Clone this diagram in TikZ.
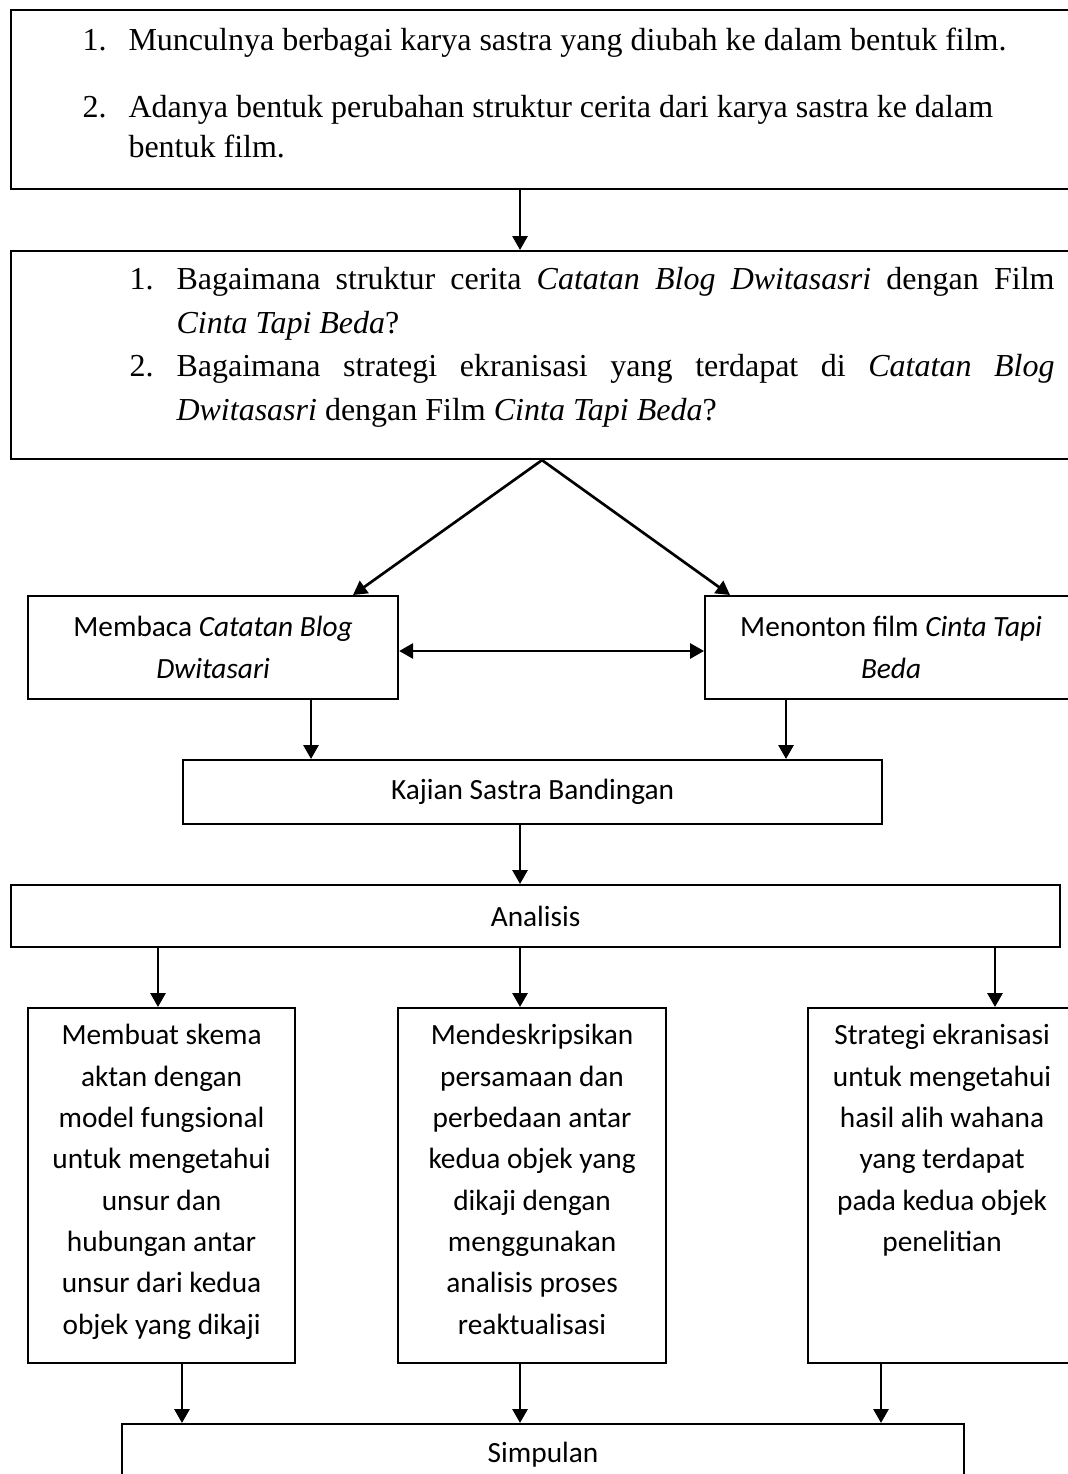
\documentclass[tikz,border=0pt]{standalone}
\usepackage{fontspec}
\setmainfont{Liberation Serif}
\newfontfamily\calibri{Carlito}
\usetikzlibrary{arrows.meta}
\newlength\pxu
\setlength\pxu{0.375pt}
\hyphenpenalty=10000
\tolerance=9999
\tikzset{
  ujung/.tip={Triangle[length=5.2pt,width=5.6pt]},
  kotak/.style={draw, line width=0.8pt, anchor=north west, inner sep=0pt},
  isi/.style={font=\calibri\fontsize{11}{15.5}\selectfont, align=center},
  kolom/.style={kotak, isi, minimum height=355\pxu, execute at end node=\strut},
  poin/.style={anchor=base west, inner sep=0pt, font=\fontsize{12}{16.3}\selectfont},
  panah/.style={line width=1pt, -ujung}
}
\begin{document}
\begin{tikzpicture}[x=0.375pt,y=-0.375pt]
\useasboundingbox (0,0) rectangle (1068,1474);
\clip (0,0) rectangle (1068,1474);

\node[kotak, minimum width=1080\pxu, minimum height=179\pxu] (latar) at (10,9) {};
\node[poin] (no1) at (82,51) {1.};
\node[poin] (poin1) at (128,51) {Munculnya berbagai karya sastra yang diubah ke dalam bentuk film.};
\node[poin] (no2) at (82,118) {2.};
\node[poin, text width=920\pxu, align=flush left, font=\fontsize{12}{15}\selectfont] (poin2) at (128,118)
  {Adanya bentuk perubahan struktur cerita dari karya sastra ke dalam\\ bentuk film.};

\node[kotak, minimum width=1080\pxu, minimum height=208\pxu] (rumusan) at (10,250) {};
\node[poin] (no3) at (129,290) {1.};
\node[poin, text width=878\pxu, align=justify] (poin3) at (176,290)
  {Bagaimana struktur cerita \textit{Catatan Blog Dwitasasri} dengan Film \textit{Cinta Tapi Beda}?};
\node[poin] (no4) at (129,377) {2.};
\node[poin, text width=878\pxu, align=justify] (poin4) at (176,377)
  {Bagaimana strategi ekranisasi yang terdapat di \textit{Catatan Blog Dwitasasri} dengan Film \textit{Cinta Tapi Beda}?};

\node[kotak, isi, minimum width=370\pxu, minimum height=103\pxu] (baca) at (27,595)
  {Membaca \textit{Catatan Blog}\\ \textit{Dwitasari}};
\node[kotak, isi, minimum width=372\pxu, minimum height=103\pxu] (tonton) at (704,595)
  {Menonton film \textit{Cinta Tapi}\\ \textit{Beda}};
\node[kotak, isi, minimum width=699\pxu, minimum height=64\pxu] (kajian) at (182,759) {Kajian Sastra Bandingan};
\node[kotak, isi, minimum width=1049\pxu, minimum height=62\pxu] (analisis) at (10,884) {Analisis};

\node[kolom, minimum width=267\pxu] (skema) at (27,1007)
  {Membuat skema\\ aktan dengan\\ model fungsional\\ untuk mengetahui\\ unsur dan\\ hubungan antar\\ unsur dari kedua\\ objek yang dikaji};
\node[kolom, minimum width=268\pxu] (deskripsi) at (397,1007)
  {Mendeskripsikan\\ persamaan dan\\ perbedaan antar\\ kedua objek yang\\ dikaji dengan\\ menggunakan\\ analisis proses\\ reaktualisasi};
\node[kolom, minimum width=268\pxu] (strategi) at (807,1007)
  {Strategi ekranisasi\\ untuk mengetahui\\ hasil alih wahana\\ yang terdapat\\ pada kedua objek\\ penelitian\\ \mbox{}\\ \mbox{}};
\node[kotak, isi, minimum width=842\pxu, minimum height=62\pxu] (simpulan) at (121,1423) {Simpulan};

\draw[panah] (latar.south -| 520,0) -- (rumusan.north -| 520,0);
\draw[panah] (rumusan.south -| 542,0) -- (baca.north -| 353,0);
\draw[panah] (rumusan.south -| 542,0) -- (tonton.north -| 730,0);
\draw[line width=1pt, ujung-ujung] (baca.east |- 0,651) -- (tonton.west |- 0,651);
\draw[panah] (baca.south -| 311,0) -- (kajian.north -| 311,0);
\draw[panah] (tonton.south -| 786,0) -- (kajian.north -| 786,0);
\draw[panah] (kajian.south -| 520,0) -- (analisis.north -| 520,0);
\draw[panah] (analisis.south -| 158,0) -- (skema.north -| 158,0);
\draw[panah] (analisis.south -| 520,0) -- (deskripsi.north -| 520,0);
\draw[panah] (analisis.south -| 995,0) -- (strategi.north -| 995,0);
\draw[panah] (skema.south -| 182,0) -- (simpulan.north -| 182,0);
\draw[panah] (deskripsi.south -| 520,0) -- (simpulan.north -| 520,0);
\draw[panah] (strategi.south -| 881,0) -- (simpulan.north -| 881,0);
\end{tikzpicture}
\end{document}
